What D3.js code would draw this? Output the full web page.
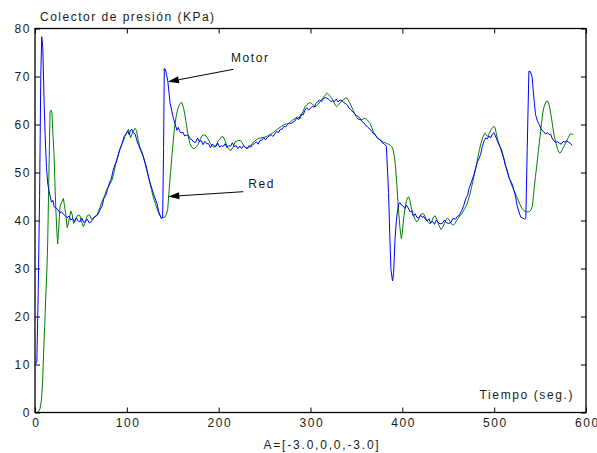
<!DOCTYPE html>
<html>
<head>
<meta charset="utf-8">
<script src="https://cdn.jsdelivr.net/npm/d3@7"></script>
<style>
	body { margin: 0; background: #fff; }
	svg text { font-family: "Liberation Sans", Arial, sans-serif; fill: #1a1a1a; }
</style>
</head>
<body>
<div id="chart"></div>
<script>

// Motor (blue) series: [tiempo, presion]
const motorData = [
	[0,10],[2,10.5],[3.5,25],[5,45],[6.3,70],[7.3,78.3],[8.5,76],[10,64],[11,58],[12.5,51],[14,47.5],[16,45.5],[18,43.8],[19.5,44.2],
	[21,42.8],[23,42.6],[25,42.2],[27,41.6],[29,41.8],[31,41.3],[33,41.0],[35,40.6],[37,40.9],[39,40.1],[41,40.4],[43,39.8],[45,40.6],
	[47,39.9],[49,39.7],[51,40.5],[53,39.6],[55,39.8],[57,40.3],[59,39.5],[61,39.7],[63,40.2],[65,40.8],[67,41.0],[69,41.4],[71,42.3],
	[73,43.0],[75,44.6],[77,45.2],[79,46.5],[81,47.8],[83,48.6],[85,50.4],[87,51.6],[89,52.4],[91,54.0],[93,55.0],[95,56.1],[97,57.5],
	[99,58.0],[101,58.6],[102.5,57.9],[104,58.8],[105.5,59.0],[107,58.3],[109,58.0],[111,56.6],[113,55.6],[115,54.6],[117,53.8],[119,52.6],
	[121,51.4],[123,49.6],[125,48.0],[127,46.8],[129,45.6],[131,44.5],[133,43.4],[134.5,42.0],[136,41.2],[137.5,40.4],[139,40.6],[140,55],
	[140.8,71.7],[142,71.5],[143.5,70.2],[144.7,68.9],[146,66.5],[147,64.6],[149,62.8],[150.8,61.2],[152.5,60.2],[154.5,58.8],[156,59.4],
	[157.5,58.6],[159,58.2],[161,58.4],[163,57.6],[165,57.8],[167,57.7],[169,57.0],[171,56.8],[173,56.3],[175,56.3],[177,57.2],[179,56.4],
	[181,56.7],[183,55.8],[185,56.5],[187,56.0],[189,56.0],[191,55.2],[193,55.9],[195,55.6],[197,55.4],[199,56.1],[201,55.3],[203,55.6],
	[205,55.4],[207,56.0],[209,55.2],[211,55.6],[213,55.5],[215,56.2],[217,55.4],[219,55.6],[221,55.0],[223,55.5],[225,55.0],[227,55.6],
	[229,55.2],[231,55.0],[233,55.6],[235,55.3],[237,55.8],[239,56.0],[241,56.4],[243,55.9],[245,56.7],[247,56.7],[249,57.3],[251,56.8],
	[253,57.3],[255,57.6],[257,57.9],[259,57.5],[261,58.0],[263,58.6],[265,58.3],[267,59.0],[269,59.0],[271,59.6],[273,59.5],[275,60.0],
	[277,60.3],[279,60.2],[281,60.5],[283,60.7],[285,61.4],[287,61.0],[288.6,61.7],[290,62.2],[292,62.0],[294,63.0],[296,63.5],[298,63.0],
	[300,63.4],[302,63.8],[304,63.6],[306,64.4],[308,64.8],[310,65.1],[312,64.8],[314,65.4],[316,65.6],[318,65.5],[320,65.2],[322,64.8],
	[324,64.9],[326,64.8],[328,65.3],[330,64.7],[332,65.1],[334,65.0],[336,64.6],[338,64.4],[340,64.1],[342,63.4],[344,63.1],[346,62.6],
	[348,62.3],[350,61.9],[352,61.6],[354,61.3],[356,60.6],[358,60.4],[360,59.8],[362,59.6],[364,59.1],[366,58.8],[368,58.2],[370,58.0],
	[372,57.4],[374,57.0],[376,56.8],[378,56.2],[380,56.0],[382.6,55.5],[384,50],[385,45.8],[386.3,37],[387.6,29.8],[389.3,27.4],
	[390.5,29],[392,36],[393.5,40],[394.5,41.6],[396,43.5],[397.5,43.7],[399,43.2],[401,43.0],[403,42.5],[404.5,43.2],[406.5,42.6],
	[408.5,41.8],[410,42.0],[412,40.9],[414,41.4],[416,40.6],[418,40.5],[420,41.1],[422,40.6],[423,40.9],[425,40.3],[427,39.9],[429,40.4],
	[430.7,39.5],[433,39.8],[435,39.2],[437,40.1],[439,39.6],[441,39.3],[443.5,39.4],[446,40.1],[448,39.5],[450.7,39.4],[453,39.6],
	[455,40.4],[458,40.3],[460,40.9],[462,41.0],[463.5,41.7],[465,42.2],[467,43.2],[469,44.5],[471,45.2],[472.5,46.6],[474.4,47.6],
	[476,48.4],[478,49.6],[480,51.0],[482,52.3],[483.5,52.9],[485.3,53.8],[487,55.4],[489,56.6],[491,57.2],[492.5,57.0],[494.3,57.6],
	[496,57.2],[498,58.0],[499.8,58.3],[501,57.8],[503,56.8],[505,55.9],[507,55.0],[509,53.8],[510.6,52.8],[512,51.6],[514,50.6],
	[516,49.0],[518,48.2],[520,47.4],[521.5,46.2],[523,45.3],[525,43.1],[527,41.8],[528.9,40.7],[531,40.5],[533,40.3],[534.5,40.5],
	[536,55],[537.8,71.1],[539.5,71.0],[541.4,69.8],[543,66],[545,62.1],[547,60.8],[549,60.0],[550.6,59.3],[552,58.8],[554,58.5],
	[556,58.0],[558,58.3],[560,57.9],[561.5,58.0],[563,57.2],[565,56.6],[567,56.3],[569,56.4],[571,56.1],[573,55.9],[575,56.5],
	[577,56.3],[579,56.6],[581,56.3],[583,56.1],[585,55.6]
];

// Red (green) series: [tiempo, presion]
const redData = [
	[0,0],[2,0],[4,0.2],[5.5,0.8],[7,2.6],[8.2,6],[9,10.3],[10.5,18],[11.6,23.4],[13,30],[13.8,35.3],[15,48],[16.4,62.7],[17.5,63],
	[18.5,62.5],[19.5,58],[20.7,54],[22,46],[22.9,41.5],[24,37],[24.7,35.1],[25.5,37.5],[27.3,43],[29,43.8],[30.9,44.6],[32.5,42.5],
	[33.8,41],[35,38.5],[36.5,39.5],[38.9,42],[40.5,41.2],[42,39.4],[43.5,39.8],[45.4,40.7],[47,41.2],[49,41],[50.5,39.8],[52.7,38.7],
	[54.5,39.5],[56.3,40.7],[58,41.2],[60,41],[61.5,40.2],[63.5,40.5],[65,40.8],[67.2,41],[69,41.9],[71,42.8],[72.6,43.8],[74.5,44.6],
	[76,45.3],[78,46.5],[80,47.0],[81.5,47.6],[83.6,48.3],[85.5,49.6],[87,51.0],[89,52.7],[91,53.8],[92.5,55.0],[94.5,55.9],[96.3,56.6],
	[98,57.5],[100,58.4],[101.7,59.0],[103,58.0],[104,57.2],[105.5,58.0],[107,58.6],[109,59.2],[110.5,58.8],[112.3,56.8],[114,55.4],
	[116,54.6],[118,53.3],[120,51.8],[121.5,50.6],[123.5,49.2],[125.5,47.5],[127,46.3],[129,44.7],[131,43.6],[132.7,42.6],[134.5,41.6],
	[136,41.0],[138,40.6],[139.7,40.6],[141.5,40.7],[143,41.3],[144.5,42.3],[146,46.2],[147.5,49.8],[149,53.2],[150.5,56.5],[152,59.5],
	[153.8,61.8],[155.6,63.3],[157.5,64.2],[159,64.6],[160,64.5],[161.8,63.4],[163.4,61.9],[165,59.8],[167,57.4],[168.8,56.0],[170.6,55.3],
	[172.3,55.0],[174,55.0],[176,55.4],[178,56.0],[180,56.9],[181.6,57.6],[183.3,57.8],[185,57.8],[187,57.4],[189,56.8],[190.8,56.1],
	[192.4,55.7],[194.2,55.3],[196,55.3],[197.8,55.9],[199.6,56.6],[201.5,57.0],[203.2,57.5],[205,57.4],[206.8,56.7],[208.7,55.7],
	[210.5,55.0],[212,54.7],[213.5,54.6],[215.5,55.2],[218,56.4],[220.5,56.6],[223.5,56.7],[225.5,56.2],[227,55.7],[229.5,55.2],
	[231.9,55.0],[234,55.4],[236.3,56.0],[239,56.5],[241,56.8],[243.5,57.1],[246,57.2],[248.5,57.3],[250.8,57.4],[253,57.6],[255.5,57.9],
	[258,58.1],[260.5,58.5],[263,58.9],[265.3,59.2],[268,59.6],[270.8,59.9],[273.5,60.1],[276,60.2],[278.5,60.6],[281,61.0],[283.5,61.3],
	[286,61.6],[288.6,61.2],[291,62.3],[294,63.7],[296.5,64.2],[299.5,64.6],[302,64.3],[305,63.7],[307.5,64.0],[310.5,64.8],[313,65.4],
	[315.5,66.0],[317.7,66.5],[319.5,66.3],[321.5,65.8],[323,65.5],[325,64.8],[327,64.0],[328.6,63.7],[330.5,64.1],[332,64.5],[334,64.8],
	[336,65.2],[337.8,65.5],[339.6,65.5],[341.3,65.0],[343,64.4],[345,63.6],[346.8,62.8],[348.6,62.0],[350.5,61.4],[352,61.1],[354,61.0],
	[356,61.0],[357.8,61.2],[359.6,61.3],[361.5,61.0],[363.3,60.6],[365,60.2],[366.8,59.3],[368.7,58.4],[370.6,57.8],[372.5,57.3],
	[374.3,56.9],[376,56.8],[378,56.5],[379.8,56.3],[381.6,56.2],[383.5,56.0],[385.2,55.9],[387,55.7],[388.5,55.4],[390,54.7],[391.3,53.3],
	[392.6,51.2],[394,47.5],[395.1,44.2],[396.2,41.2],[397.3,38.7],[398.2,37.1],[399,36.2],[400,37.5],[401.6,40.7],[403,42.6],[404.6,44.2],
	[406,44.8],[407,44.9],[408.2,44.2],[409.6,42.8],[411,41.8],[412.3,41.0],[414,40.2],[415.7,39.7],[417.5,40.1],[419.3,41.0],[421,41.4],
	[423,41.4],[424.8,40.8],[426.6,40.0],[428.4,39.6],[430.2,39.3],[432,39.8],[433.8,40.7],[435.6,41.0],[437.4,40.3],[439.2,39.3],
	[440.8,38.6],[442.2,38.1],[444,38.6],[445.8,39.4],[447.6,40.2],[449.4,40.5],[451,40.1],[453,39.4],[455.5,39.0],[457.3,39.4],
	[459.2,40.0],[461,40.5],[462.8,41.0],[464.6,41.4],[466.5,42.0],[468,42.5],[470,43.2],[471.8,44.2],[473.6,45.5],[475.5,47.0],
	[477.3,48.6],[479.2,50.3],[481,51.9],[482.5,53.4],[484,54.8],[485.6,56.1],[487.5,57.3],[489,57.9],[490,58.2],[491.5,57.8],[493,57.5],
	[494.8,58.2],[496.6,58.9],[498.3,59.4],[500,59.6],[501,59.3],[502.3,58.2],[503.8,56.8],[506,55.6],[508.2,54.7],[510,53.4],[511.8,52.0],
	[513.6,50.5],[515.5,49.4],[517.3,48.3],[519,47.4],[520.8,46.6],[522.7,45.8],[524.5,45.0],[526.3,44.2],[528,43.4],[530,42.6],
	[531.8,42.2],[533.6,41.9],[535.5,41.8],[537.3,41.8],[539,41.9],[540.3,42.3],[541.6,43.0],[542.7,45],[543.8,47.2],[545,49.2],
	[546.4,51.4],[548.2,54.6],[550,57.6],[551.5,60.2],[552.9,62.4],[554.5,63.8],[556.5,64.8],[558.2,64.9],[559.8,64.1],[561.2,62.8],
	[562.7,61.0],[564,59.2],[565.5,57.6],[567.3,56.1],[569.2,54.8],[570.5,54.2],[571.7,54.0],[573.5,54.5],[575.3,55.2],[577.2,55.9],
	[579,56.6],[580.8,57.3],[582.6,58.0],[584.4,58.0],[586.2,58.0]
];

const xTicks = [0, 100, 200, 300, 400, 500, 600];
const yTicks = [0, 10, 20, 30, 40, 50, 60, 70, 80];

// annotations: label, text position, arrow tail, arrow tip (data units)
const notes = [
	{label: 'Motor', text: [213.4, 73.1], from: [216, 71.5], to: [144.7, 68.9]},
	{label: 'Red', text: [232.3, 46.8], from: [226.8, 46.0], to: [145.2, 45.0]}
];

const W = 597, H = 453;
const margin = {top: 28.5, right: 11, bottom: 40.5, left: 35};
const width = W - margin.left - margin.right;
const height = H - margin.top - margin.bottom;

const svg = d3.select('#chart').append('svg')
	.attr('width', W)
	.attr('height', H);

const g = svg.append('g')
	.attr('transform', `translate(${margin.left},${margin.top})`);

//scales
const x = d3.scaleLinear().domain([0, 600]).range([0, width]);
const y = d3.scaleLinear().domain([0, 80]).range([height, 0]);

//axes, ticks pointing inward on all sides
const styleAxis = (sel, labels) => {
	sel.select('.domain').remove();
	sel.selectAll('.tick line').attr('stroke', '#000').attr('stroke-width', 1);
	sel.selectAll('.tick text')
		.style('font-size', '12px')
		.style('letter-spacing', '1.6px')
		.attr('fill', '#1a1a1a');
	if (!labels) sel.selectAll('.tick text').remove();
};

g.append('g')
	.attr('transform', `translate(0,${height})`)
	.call(d3.axisBottom(x).tickValues(xTicks).tickSize(-5).tickPadding(6))
	.call(s => styleAxis(s, true))
	.selectAll('.tick text').attr('dx', '0.8px');

g.append('g')
	.call(d3.axisTop(x).tickValues(xTicks).tickSize(-5))
	.call(s => styleAxis(s, false));

g.append('g')
	.call(d3.axisLeft(y).tickValues(yTicks).tickSize(-5).tickPadding(4))
	.call(s => styleAxis(s, true));

g.append('g')
	.attr('transform', `translate(${width},0)`)
	.call(d3.axisRight(y).tickValues(yTicks).tickSize(-5))
	.call(s => styleAxis(s, false));

//lines
const line = d3.line().x(d => x(d[0])).y(d => y(d[1]));

g.append('path')
	.datum(redData)
	.attr('fill', 'none')
	.attr('stroke', '#008000')
	.attr('stroke-width', 1)
	.attr('d', line);

g.append('path')
	.datum(motorData)
	.attr('fill', 'none')
	.attr('stroke', '#0000ff')
	.attr('stroke-width', 1)
	.attr('d', line);

//frame
g.append('rect')
	.attr('width', width)
	.attr('height', height)
	.attr('fill', 'none')
	.attr('stroke', '#000')
	.attr('stroke-width', 1.3);

//annotations with arrows
notes.forEach(n => {
	const x1 = x(n.from[0]), y1 = y(n.from[1]);
	const x2 = x(n.to[0]), y2 = y(n.to[1]);
	const a = Math.atan2(y2 - y1, x2 - x1);
	const len = 11, half = 3.5;
	const bx = x2 - len * Math.cos(a), by = y2 - len * Math.sin(a);
	g.append('line')
		.attr('x1', x1).attr('y1', y1)
		.attr('x2', bx).attr('y2', by)
		.attr('stroke', '#000')
		.attr('stroke-width', 1);
	g.append('polygon')
		.attr('points', [
			[x2, y2],
			[bx + half * Math.sin(a), by - half * Math.cos(a)],
			[bx - half * Math.sin(a), by + half * Math.cos(a)]
		].map(p => p.join(',')).join(' '))
		.attr('fill', '#000');
	g.append('text')
		.attr('x', x(n.text[0]))
		.attr('y', y(n.text[1]))
		.style('font-size', '12px')
		.style('letter-spacing', '1.6px')
		.text(n.label);
});

//titles
svg.append('text')
	.attr('x', 40)
	.attr('y', 21)
	.style('font-size', '12px')
	.style('letter-spacing', '1.5px')
	.text('Colector de presión (KPa)');

svg.append('text')
	.attr('x', 574)
	.attr('y', 398.5)
	.attr('text-anchor', 'end')
	.style('font-size', '12px')
	.style('letter-spacing', '1.6px')
	.text('Tiempo (seg.)');

svg.append('text')
	.attr('x', 322)
	.attr('y', 448.5)
	.attr('text-anchor', 'middle')
	.style('font-size', '12px')
	.style('letter-spacing', '1.8px')
	.text('A=[-3.0,0,0,-3.0]');

</script>
</body>
</html>
